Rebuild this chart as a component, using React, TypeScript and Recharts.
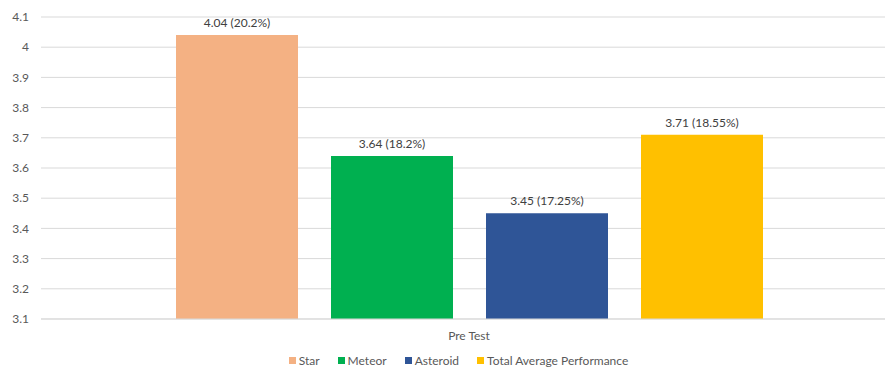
import { Bar, BarChart, CartesianGrid, LabelList, Legend, XAxis, YAxis } from "recharts";

const categories = ["Pre Test"];
const seriesNames = ["Star", "Meteor", "Asteroid", "Total Average Performance"];
const seriesValues = [4.04, 3.64, 3.45, 3.71];
const seriesPercents = ["20.2%", "18.2%", "17.25%", "18.55%"];
const seriesColors = ["#F4B183", "#00B050", "#2F5597", "#FFC000"];
const yTicks = [3.1, 3.2, 3.3, 3.4, 3.5, 3.6, 3.7, 3.8, 3.9, 4, 4.1];

const data = categories.map((name) => {
  const row: Record<string, string | number> = { name };
  seriesNames.forEach((s, i) => (row[s] = seriesValues[i]));
  return row;
});

const font = "Lato, 'Open Sans', sans-serif";
const textColor = "#595959";

function LegendContent() {
  return (
    <div
      style={{
        display: "flex",
        justifyContent: "center",
        gap: 18,
        paddingLeft: 20,
        height: 14,
        alignItems: "center",
        fontFamily: font,
        fontSize: 12,
        color: textColor,
      }}
    >
      {seriesNames.map((s, i) => (
        <span key={s} style={{ display: "flex", alignItems: "center" }}>
          <span
            style={{
              width: 7,
              height: 7,
              background: seriesColors[i],
              display: "inline-block",
              marginRight: 3,
            }}
          />
          {s}
        </span>
      ))}
    </div>
  );
}

export default function App() {
  return (
    <div style={{ position: "absolute", left: 0, top: 0, background: "#fff" }}>
      <BarChart
        width={885}
        height={367}
        data={data}
        margin={{ top: 17, right: -12, left: 0, bottom: 0 }}
        barGap={33}
      >
        <CartesianGrid vertical={false} stroke="#D9D9D9" />
        <XAxis
          dataKey="name"
          tickLine={false}
          axisLine={{ stroke: "#D9D9D9" }}
          tick={{ fontSize: 12, fill: textColor, fontFamily: font }}
          tickSize={0}
          tickMargin={12}
          height={34}
        />
        <YAxis
          domain={[3.1, 4.1]}
          ticks={yTicks}
          interval={0}
          tickLine={false}
          axisLine={false}
          tickSize={6}
          tickMargin={6}
          width={41}
          tick={{ fontSize: 12, fill: textColor, fontFamily: font }}
          tickFormatter={(v) => String(v)}
        />
        <Legend verticalAlign="bottom" height={14} content={<LegendContent />} />
        {seriesNames.map((s, i) => (
          <Bar
            key={s}
            dataKey={s}
            fill={seriesColors[i]}
            barSize={122}
            isAnimationActive={false}
          >
            <LabelList
              dataKey={s}
              position="top"
              offset={8}
              formatter={(v: any) => `${v} (${seriesPercents[i]})`}
              style={{ fontSize: 12, fill: "#404040", fontFamily: font }}
            />
          </Bar>
        ))}
      </BarChart>
    </div>
  );
}
